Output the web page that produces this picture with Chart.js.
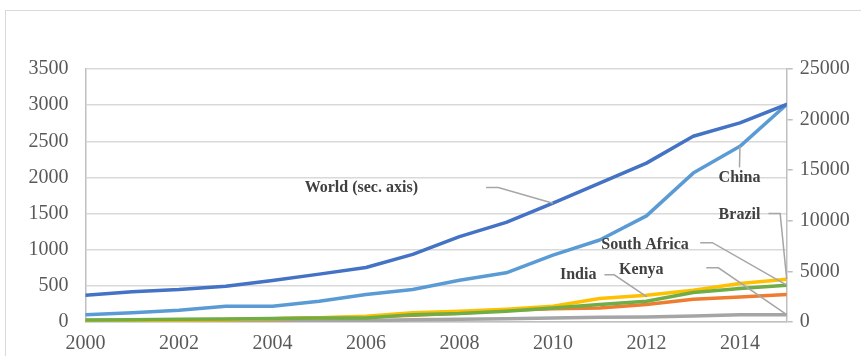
<!DOCTYPE html>
<html>
<head>
<meta charset="utf-8">
<script src="https://cdn.jsdelivr.net/npm/chart.js@4/dist/chart.umd.min.js"></script>
<style>
  html, body { margin: 0; padding: 0; background: #fff; overflow: hidden; }
  #frame { position: absolute; left: 5px; top: 10px; width: 900px; height: 400px; border: 1.5px solid #D9D9D9; box-sizing: border-box; }
  #wrap { position: absolute; left: 0; top: 0; width: 861px; height: 356px; }
</style>
</head>
<body>
<div id="frame"></div>
<div id="wrap"><canvas id="c" width="861" height="356"></canvas></div>
<script>
// ---- data ----
const years = [2000,2001,2002,2003,2004,2005,2006,2007,2008,2009,2010,2011,2012,2013,2014,2015];
const xTickLabels = [2000,2002,2004,2006,2008,2010,2012,2014];
const leftTicks = [0,500,1000,1500,2000,2500,3000,3500];
const rightTicks = [0,5000,10000,15000,20000,25000];
const world = [2650,2980,3200,3540,4100,4730,5390,6680,8430,9850,11740,13720,15700,18350,19670,21500];
const china = [100,129,162,218,218,287,380,449,578,680,926,1134,1468,2060,2430,3009];
const brazil = [15,20,28,30,45,60,79,129,148,176,218,324,370,440,532,593];
const southAfrica = [28,30,38,40,50,55,56,102,116,148,194,241,287,407,463,509];
const india = [20,25,30,35,45,55,70,95,120,162,185,194,241,315,347,379];
const kenya = [2,3,5,8,12,15,20,30,37,46,56,65,69,83,100,102];

// label annotations: text, label centre (year, left-axis value), leader path points (year, value, axis)
const seriesLabels = [
  {text:'World (sec. axis)', at:[2005.9,1861], path:[[2008.57,1861,'y'],[2008.83,1861,'y'],[2010,11740,'y2']]},
  {text:'China', at:[2013.99,2000], path:[[2013.99,2139,'y'],[2014,2430,'y']]},
  {text:'Brazil', at:[2013.99,1486], path:[[2014.61,1500,'y'],[2014.86,1500,'y'],[2015,593,'y']]},
  {text:'South Africa', at:[2011.97,1069], path:[[2013.15,1097,'y'],[2013.41,1097,'y'],[2015,509,'y']]},
  {text:'India', at:[2010.54,653], path:[[2011.1,653,'y'],[2011.31,653,'y'],[2012.01,347,'y']]},
  {text:'Kenya', at:[2011.89,722], path:[[2013.28,750,'y'],[2013.54,750,'y'],[2015,102,'y']]}
];

const FONT = "'Liberation Serif', 'Times New Roman', serif";
const pts = arr => years.map((y,i)=>({x:y, y:arr[i]}));
function ds(label, arr, color, axis) {
  return { label, data: pts(arr), borderColor: color, backgroundColor: color, borderWidth: 3.5,
           pointRadius: 0, tension: 0, yAxisID: axis, borderCapStyle: 'round', borderJoinStyle: 'round' };
}

const labelPlugin = {
  id: 'seriesLabels',
  afterDatasetsDraw(chart) {
    const ctx = chart.ctx, xs = chart.scales.x;
    ctx.save();
    ctx.strokeStyle = '#A6A6A6';
    ctx.lineWidth = 1.5;
    seriesLabels.forEach(l => {
      ctx.beginPath();
      l.path.forEach((p, i) => {
        const px = xs.getPixelForValue(p[0]);
        const py = chart.scales[p[2]].getPixelForValue(p[1]);
        if (i === 0) ctx.moveTo(px, py); else ctx.lineTo(px, py);
      });
      ctx.stroke();
    });
    ctx.fillStyle = '#404040';
    ctx.font = 'bold 16px ' + FONT;
    ctx.textAlign = 'center';
    ctx.textBaseline = 'middle';
    seriesLabels.forEach(l => {
      ctx.fillText(l.text, xs.getPixelForValue(l.at[0]), chart.scales.y.getPixelForValue(l.at[1]));
    });
    ctx.restore();
  }
};

new Chart(document.getElementById('c'), {
  type: 'line',
  data: {
    datasets: [
      ds('World', world, '#4472C4', 'y2'),
      ds('South Africa', southAfrica, '#70AD47', 'y'),
      ds('Brazil', brazil, '#FFC000', 'y'),
      ds('India', india, '#ED7D31', 'y'),
      ds('Kenya', kenya, '#A5A5A5', 'y'),
      ds('China', china, '#5B9BD5', 'y')
    ]
  },
  options: {
    responsive: false,
    animation: false,
    events: [],
    layout: { padding: { top: 69, left: 0, right: 0, bottom: 0 } },
    plugins: { legend: { display: false }, tooltip: { enabled: false } },
    scales: {
      x: {
        type: 'linear', min: 2000, max: 2015,
        afterBuildTicks: s => { s.ticks = xTickLabels.map(v => ({value: v})); },
        afterFit: s => { s.height = 34; },
        grid: { drawOnChartArea: false, drawTicks: false },
        border: { color: '#BFBFBF', width: 1.5 },
        ticks: { padding: 10, color: '#595959', font: { family: FONT, size: 20 }, callback: v => String(v), maxRotation: 0, autoSkip: false }
      },
      y: {
        position: 'left', min: 0, max: 3500,
        afterBuildTicks: s => { s.ticks = leftTicks.map(v => ({value: v})); },
        afterFit: s => { s.width = 85.5; },
        grid: { color: '#D9D9D9', lineWidth: 1.5, drawTicks: false },
        border: { color: '#BFBFBF', width: 1.5 },
        ticks: { padding: 17, color: '#595959', font: { family: FONT, size: 20 }, callback: v => String(v) }
      },
      y2: {
        position: 'right', min: 0, max: 25000,
        afterBuildTicks: s => { s.ticks = rightTicks.map(v => ({value: v})); },
        afterFit: s => { s.width = 74.3; },
        grid: { drawOnChartArea: false, drawTicks: true, tickLength: 6, color: '#BFBFBF', lineWidth: 1.5 },
        border: { color: '#BFBFBF', width: 1.5 },
        ticks: { padding: 7, color: '#595959', font: { family: FONT, size: 20 }, callback: v => String(v) }
      }
    }
  },
  plugins: [labelPlugin]
});
</script>
</body>
</html>
